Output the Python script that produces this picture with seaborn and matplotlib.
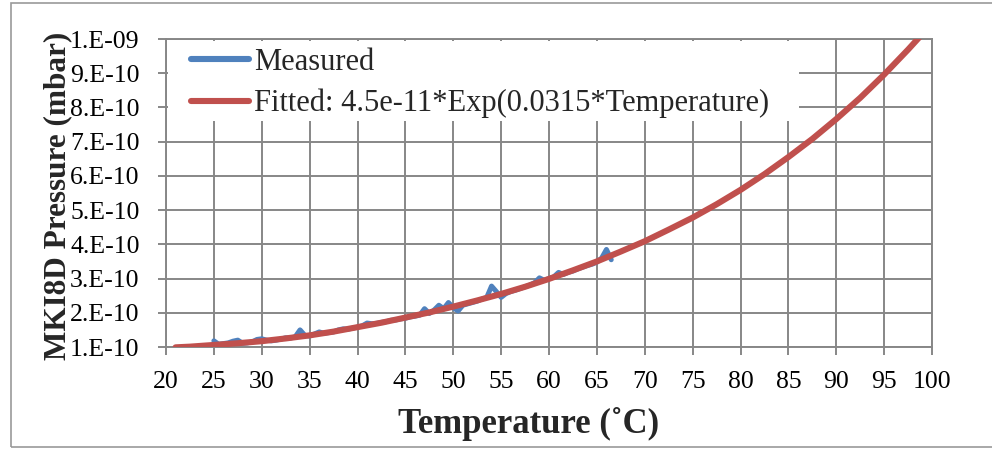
import numpy as np
import pandas as pd
import matplotlib
matplotlib.use("Agg")
import matplotlib.pyplot as plt
from matplotlib.patches import Rectangle
import seaborn as sns

# ---------------- data (pressure in units of 1e-10 mbar) ----------------
measured_temp = [25.0, 25.5, 26.0, 26.5, 27.0, 27.5, 28.0, 28.5, 29.0, 29.5,
                 30.0, 30.5, 31.0, 31.5, 32.0, 32.5, 33.0, 33.5, 34.0, 34.5,
                 35.0, 35.5, 36.0, 36.5, 37.0, 37.5, 38.0, 38.5, 39.0, 39.5,
                 40.0, 40.5, 41.0, 41.5, 42.0, 42.5, 43.0, 43.5, 44.0, 44.5,
                 45.0, 45.5, 46.0, 46.5, 47.0, 47.5, 48.0, 48.5, 49.0, 49.5,
                 50.0, 50.5, 51.0, 51.5, 52.0, 52.5, 53.0, 53.5, 54.0, 54.5,
                 55.0, 55.5, 56.0, 56.5, 57.0, 57.5, 58.0, 58.5, 59.0, 59.5,
                 60.0, 60.5, 61.0, 61.5, 62.0, 62.5, 63.0, 63.5, 64.0, 64.5,
                 65.0, 65.5, 66.0, 66.5]
measured_p = [1.18, 1.08, 1.10, 1.12, 1.17, 1.20, 1.11, 1.12, 1.15, 1.22,
              1.24, 1.20, 1.18, 1.20, 1.23, 1.27, 1.26, 1.30, 1.50, 1.34,
              1.32, 1.38, 1.44, 1.40, 1.42, 1.44, 1.50, 1.53, 1.52, 1.55,
              1.58, 1.62, 1.70, 1.68, 1.69, 1.72, 1.74, 1.78, 1.79, 1.82,
              1.84, 1.88, 1.90, 1.93, 2.12, 1.98, 2.08, 2.22, 2.12, 2.30,
              2.15, 2.05, 2.22, 2.26, 2.30, 2.34, 2.40, 2.45, 2.78, 2.62,
              2.45, 2.56, 2.62, 2.66, 2.71, 2.76, 2.81, 2.88, 3.02, 2.95,
              3.00, 3.05, 3.18, 3.12, 3.18, 3.22, 3.28, 3.33, 3.38, 3.42,
              3.48, 3.60, 3.85, 3.55]

fitted_temp = [21.0, 22.5, 25.0, 27.5, 30.0, 32.5, 35.0, 37.5, 40.0, 42.5,
               45.0, 47.5, 50.0, 52.5, 55.0, 57.5, 60.0, 62.5, 65.0, 67.5,
               70.0, 72.5, 75.0, 77.5, 80.0, 82.5, 85.0, 87.5, 90.0, 92.5,
               95.0, 97.5, 99.0]
fitted_p = [0.99, 1.01, 1.06, 1.11, 1.17, 1.25, 1.34, 1.45, 1.58, 1.71,
            1.86, 2.01, 2.18, 2.36, 2.55, 2.76, 2.99, 3.24, 3.50, 3.79,
            4.09, 4.43, 4.78, 5.17, 5.59, 6.05, 6.55, 7.08, 7.66, 8.28,
            8.96, 9.69, 10.15]

x_ticks = [20, 25, 30, 35, 40, 45, 50, 55, 60, 65, 70, 75, 80, 85, 90, 95, 100]
y_ticks = [1, 2, 3, 4, 5, 6, 7, 8, 9, 10]
y_tick_labels = ["1.E-10", "2.E-10", "3.E-10", "4.E-10", "5.E-10",
                 "6.E-10", "7.E-10", "8.E-10", "9.E-10", "1.E-09"]

measured_label = "Measured"
fitted_label = "Fitted: 4.5e-11*Exp(0.0315*Temperature)"

# scale to mbar
df_meas = pd.DataFrame({"T": measured_temp, "P": np.array(measured_p) * 1e-10})
df_fit = pd.DataFrame({"T": fitted_temp, "P": np.array(fitted_p) * 1e-10})

# ---------------- style ----------------
sns.set_theme(style="white")
plt.rcParams["font.family"] = ["Liberation Serif", "DejaVu Serif"]
plt.rcParams["axes.unicode_minus"] = False

grid_col = "#878787"
blue = "#4F81BD"
red = "#C0504D"

fig = plt.figure(figsize=(9.92, 4.49), dpi=100)
fig.patch.set_facecolor("white")
ax = fig.add_axes([166 / 992, 1 - 347 / 449, 766 / 992, 308 / 449])

sns.lineplot(data=df_meas, x="T", y="P", ax=ax, color=blue, lw=3.6,
             label=measured_label, zorder=2, estimator=None, sort=False)
sns.lineplot(data=df_fit, x="T", y="P", ax=ax, color=red, lw=4.4,
             label=fitted_label, zorder=3, estimator=None, sort=False)

ax.set_xlim(20, 100)
ax.set_ylim(1e-10, 1e-9)
ax.set_xticks(x_ticks)
ax.set_xticklabels([str(t) for t in x_ticks])
ax.set_yticks(np.array(y_ticks) * 1e-10)
ax.set_yticklabels(y_tick_labels)

ax.set_axisbelow(True)
ax.grid(True, color=grid_col, lw=1.4)
for sp in ax.spines.values():
    sp.set_color(grid_col)
    sp.set_linewidth(1.4)
ax.tick_params(axis="both", which="major", direction="out", length=6,
               width=1.4, color=grid_col, labelsize=18.5, labelcolor="black",
               left=True, bottom=True)
ax.tick_params(axis="x", pad=11)
ax.tick_params(axis="y", pad=13)

# white legend area masking the grid
ax.add_patch(Rectangle((0.002, (347 - 121) / 308), (797 - 166) / 766, 0.26,
                       transform=ax.transAxes, facecolor="white",
                       edgecolor="none", zorder=1.2))

leg = ax.legend(loc="upper left", bbox_to_anchor=(0.033, 0.972),
                frameon=False, fontsize=22, handlelength=1.9,
                handletextpad=0.15, labelspacing=0.4, borderpad=0.0,
                borderaxespad=0.0)
for h in leg.get_lines():
    h.set_linewidth(4.4)

ax.set_xlabel("Temperature (˚C)", fontsize=25, fontweight="bold")
ax.set_ylabel("MKI8D Pressure (mbar)", fontsize=22.5, fontweight="bold")
ax.xaxis.set_label_coords(0.473, -0.195)
ax.yaxis.set_label_coords(-0.122, 0.49)

# outer chart border
fig.add_artist(Rectangle((11 / 992, 1 - 447 / 449), 1.2, (447 - 3) / 449,
                         transform=fig.transFigure, fill=False,
                         edgecolor="#9a9a9a", lw=1.2))

fig.savefig("out.png", dpi=100, facecolor="white")
